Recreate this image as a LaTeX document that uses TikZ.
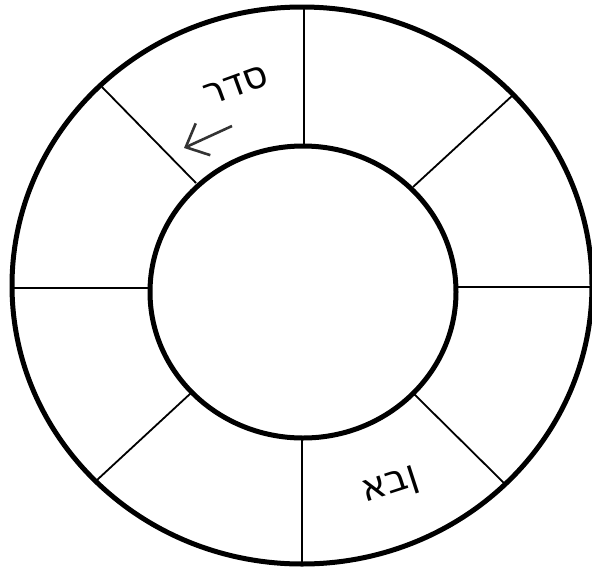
\documentclass[tikz,border=0pt]{standalone}
\usepackage{fontspec}
\usetikzlibrary{arrows.meta}
\TeXXeTstate=1
\newfontfamily\hebfont[Script=Hebrew]{DejaVu Sans}
\begin{document}
\begin{tikzpicture}[x=1pt,y=-1pt,
  ring/.style={line width=5pt,draw=black},
  spoke/.style={line width=1.8pt,draw=black},
  label/.style={font=\hebfont\fontsize{38}{38}\selectfont,inner sep=0pt},
  pointer/.style={draw=black!80,line width=2.6pt,
    -{Straight Barb[length=19pt,width=35pt,line width=2.6pt]}}]
\useasboundingbox (0,0) rectangle (592,568);
\fill[white] (0,0) rectangle (592,568);
\coordinate (oc) at (302,285.5);
\coordinate (ic) at (303,292);
% spokes: inner end -- outer end
\coordinate (s1a) at (304,147);  \coordinate (s1b) at (304,8);
\coordinate (s2a) at (413,187);  \coordinate (s2b) at (513,95);
\coordinate (s3a) at (457,287);  \coordinate (s3b) at (595,287);
\coordinate (s4a) at (413,393);  \coordinate (s4b) at (506,485);
\coordinate (s5a) at (302,437);  \coordinate (s5b) at (302,565);
\coordinate (s6a) at (191,393);  \coordinate (s6b) at (97,480);
\coordinate (s7a) at (150,288);  \coordinate (s7b) at (12,288);
\coordinate (s8a) at (196,183);  \coordinate (s8b) at (102,87);
\foreach \s in {1,...,8}{
  \draw[spoke] (s\s a) -- (s\s b);
}
\draw[ring] (oc) ellipse [x radius=290, y radius=278.5];
\draw[ring,fill=white] (ic) ellipse [x radius=153, y radius=146];
\node[label,rotate=20] (seder) at (236,86) {\beginR סדר\endR};
\node[label,rotate=18] (even) at (391,487) {\beginR ןבא\endR};
\coordinate (arrowstart) at (232,126);
\coordinate (arrowtip) at (184,148);
\draw[pointer] (arrowstart) -- (arrowtip);
\end{tikzpicture}
\end{document}
